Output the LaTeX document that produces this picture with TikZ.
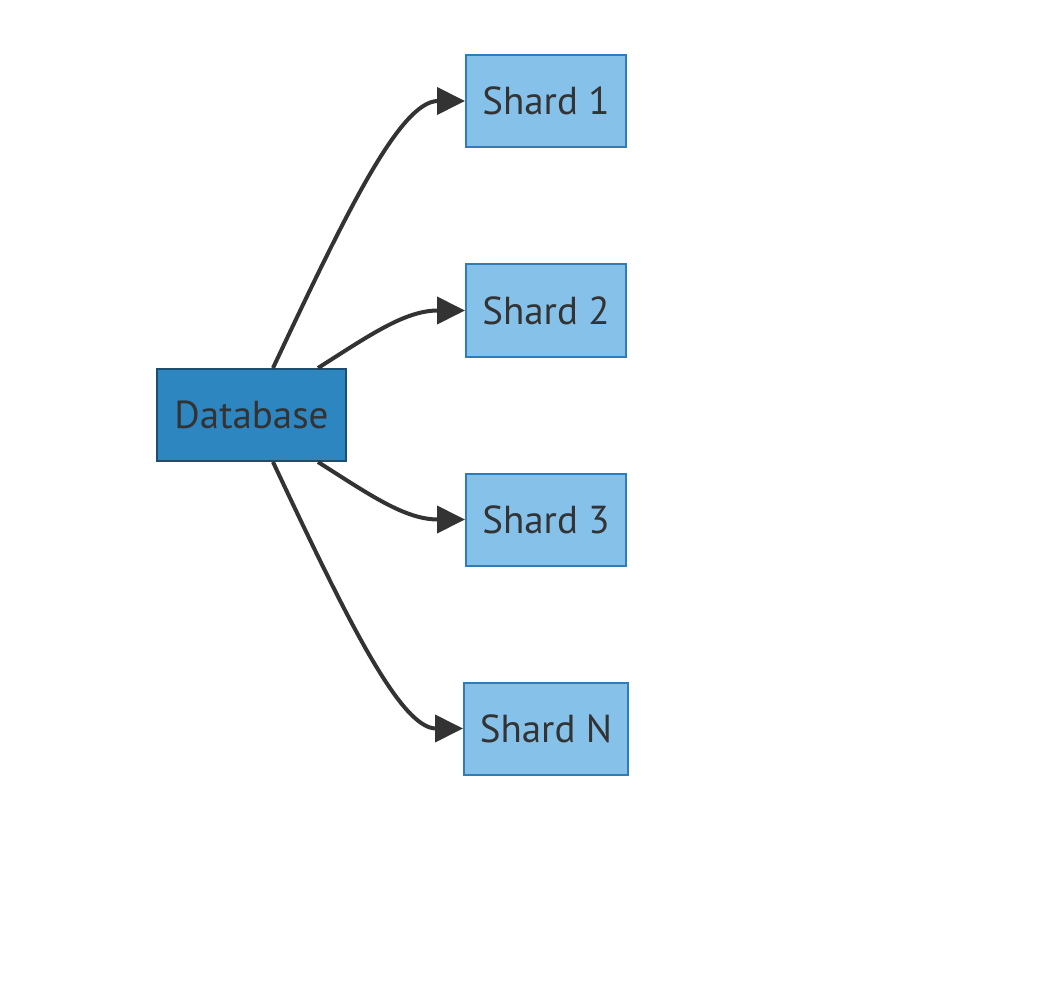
\documentclass[tikz,border=0pt]{standalone}
\usepackage{fontspec}
\setmainfont{PT Sans}
\usetikzlibrary{arrows.meta}
\definecolor{dbfill}{HTML}{2E86C1}
\definecolor{dbline}{HTML}{1B4F72}
\definecolor{shfill}{HTML}{85C1E9}
\definecolor{shline}{HTML}{2E7DB8}
\definecolor{ink}{HTML}{333333}
\tikzset{
  box/.style={draw, line width=2pt, inner sep=0pt, minimum height=92pt,
    text=ink, font=\fontsize{39}{42}\selectfont},
  dbbox/.style={box, fill=dbfill, draw=dbline, minimum width=189pt},
  shbox/.style={box, fill=shfill, draw=shline, minimum width=160pt},
  link/.style={draw=ink, line width=4pt, -{Triangle[length=28pt,width=27pt]}}
}
\begin{document}
\begin{tikzpicture}[x=1pt,y=-1pt]
\useasboundingbox[fill=white] (0,0) rectangle (1055,1000);
\node[dbbox] (db) at (251.5,415) {Database};
\node[shbox] (s1) at (546,101) {Shard 1};
\node[shbox] (s2) at (546,310.5) {Shard 2};
\node[shbox] (s3) at (546,519.5) {Shard 3};
\node[shbox, minimum width=164pt] (sn) at (546,728.5) {Shard N};
\coordinate (a1) at ([xshift=21.5pt]db.north);
\coordinate (a2) at ([xshift=66.5pt]db.north);
\coordinate (a3) at ([xshift=66.5pt]db.south);
\coordinate (a4) at ([xshift=21.5pt]db.south);
\draw[link] (a1) .. controls (345,215) and (400,101) .. (s1.west);
\draw[link] (a2) .. controls (370,335) and (405,310.5) .. (s2.west);
\draw[link] (a3) .. controls (370,495) and (405,519.5) .. (s3.west);
\draw[link] (a4) .. controls (345,615) and (400,728.5) .. (sn.west);
\end{tikzpicture}
\end{document}
